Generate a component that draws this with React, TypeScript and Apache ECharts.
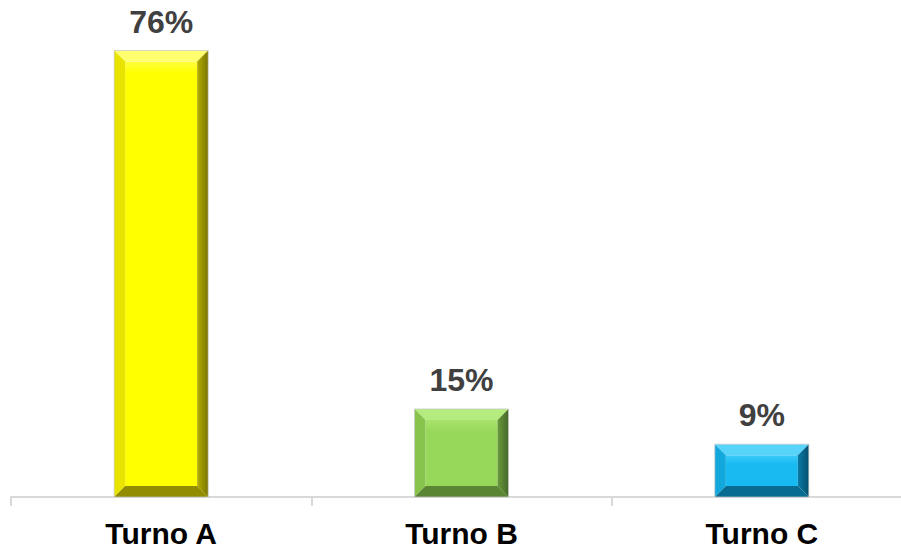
import React, { useEffect, useRef } from "react";
import * as echarts from "echarts";

const categories = ["Turno A", "Turno B", "Turno C"];
const shares = [76, 15, 9];

// face gradient, top / left bevel, right bevel gradient, bottom bevel
const palettes = [
  { face: ["#FFFF40", "#FFFF00"], top: "#FFFF70", left: "#E8E400", right: ["#B4AE00", "#7A7400"], bottom: "#928C00" },
  { face: ["#A9E36E", "#97D85A"], top: "#B5EC80", left: "#86C44C", right: ["#6A9A3A", "#46682A"], bottom: "#5A8633" },
  { face: ["#3ACBFA", "#18BAF2"], top: "#58D4FB", left: "#12A8DE", right: ["#0A7AA6", "#06506E"], bottom: "#086B91" },
];

const FONT = "Liberation Sans, Arial, sans-serif";

export default function App() {
  const ref = useRef<HTMLDivElement>(null);

  useEffect(() => {
    if (!ref.current) return;
    const chart = echarts.init(ref.current, null, { renderer: "svg" });
    const data = shares.map((v, i) => [i, v]);

    chart.setOption({
      animation: false,
      grid: {
        left: 11,
        width: 901,
        top: 27,
        bottom: 55,
        containLabel: false,
        outerBoundsMode: "none",
      },
      xAxis: {
        type: "category",
        data: categories,
        axisLine: { lineStyle: { color: "#D9D9D9", width: 2 } },
        axisTick: { show: true, length: 9, lineStyle: { color: "#D9D9D9", width: 2 } },
        axisLabel: {
          margin: 21,
          color: "#000000",
          fontSize: 30,
          fontWeight: "bold",
          fontFamily: FONT,
        },
      },
      yAxis: {
        type: "value",
        min: 0,
        max: 80,
        show: false,
        splitLine: { show: false },
      },
      series: [
        {
          type: "custom",
          data,
          renderItem: (params: any, api: any) => {
            const idx = api.value(0);
            const val = api.value(1);
            const p = palettes[params.dataIndex];
            const base = api.coord([idx, 0]);
            const top = api.coord([idx, val]);
            const w = api.size([1, 0])[0] * 0.313;
            const x0 = base[0] - w / 2;
            const x1 = base[0] + w / 2;
            const y0 = top[1];
            const y1 = base[1];
            const b = 11;
            return {
              type: "group",
              children: [
                {
                  type: "rect",
                  shape: { x: x0 + b, y: y0 + b, width: w - 2 * b, height: y1 - y0 - 2 * b },
                  style: {
                    fill: new echarts.graphic.LinearGradient(0, 0, 0, 1, [
                      { offset: 0, color: p.face[0] },
                      { offset: Math.min(0.3, 12 / Math.max(1, y1 - y0 - 2 * b)), color: p.face[1] },
                      { offset: 1, color: p.face[1] },
                    ]),
                  },
                },
                {
                  type: "polygon",
                  shape: { points: [[x0, y0], [x1, y0], [x1 - b, y0 + b], [x0 + b, y0 + b]] },
                  style: { fill: p.top },
                },
                {
                  type: "polygon",
                  shape: { points: [[x0, y0], [x0 + b, y0 + b], [x0 + b, y1 - b], [x0, y1]] },
                  style: { fill: p.left },
                },
                {
                  type: "polygon",
                  shape: { points: [[x1, y0], [x1, y1], [x1 - b, y1 - b], [x1 - b, y0 + b]] },
                  style: {
                    fill: new echarts.graphic.LinearGradient(0, 0, 1, 0, [
                      { offset: 0, color: p.right[0] },
                      { offset: 1, color: p.right[1] },
                    ]),
                  },
                },
                {
                  type: "polygon",
                  shape: { points: [[x0, y1], [x1, y1], [x1 - b, y1 - b], [x0 + b, y1 - b]] },
                  style: { fill: p.bottom },
                },
                {
                  type: "rect",
                  shape: { x: x0, y: y0, width: w, height: y1 - y0 },
                  style: { fill: "none", stroke: "rgba(200,200,200,0.7)", lineWidth: 1 },
                },
                {
                  type: "text",
                  x: base[0],
                  y: y0 - 13,
                  style: {
                    text: val + "%",
                    fill: "#404040",
                    fontSize: 32,
                    fontWeight: "bold",
                    fontFamily: FONT,
                    align: "center",
                    verticalAlign: "bottom",
                  },
                },
              ],
            };
          },
        },
      ],
    });

    return () => chart.dispose();
  }, []);

  return (
    <div
      ref={ref}
      style={{ position: "fixed", left: 0, top: 0, width: 901, height: 552, background: "#ffffff" }}
    />
  );
}
